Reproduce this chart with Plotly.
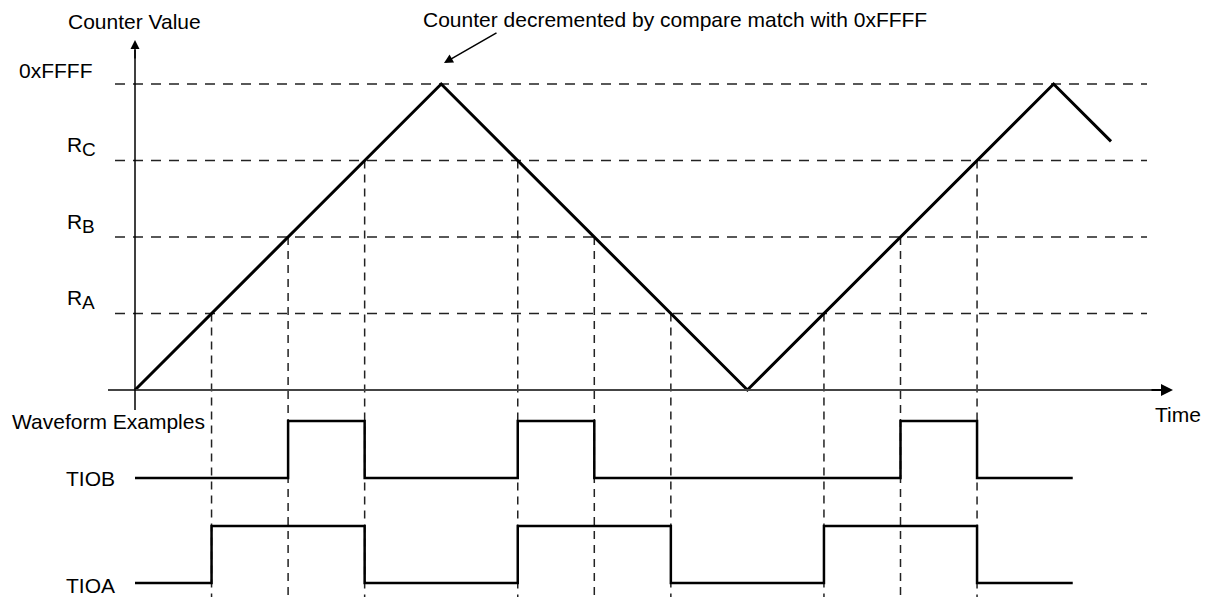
import plotly.graph_objects as go

# counter levels (in units of one compare-register step)
level_main = ["R", "R", "R", "0xFFFF"]
level_sub = ["A", "B", "C", ""]
level_values = [1, 2, 3, 4]

# up/down counter ramp
counter_t = [0, 4, 8, 12, 12.75]
counter_v = [0, 4, 0, 4, 3.25]

# compare-match instants and the level matched
match_t = [1, 2, 3, 5, 6, 7, 9, 10, 11]
match_v = [1, 2, 3, 3, 2, 1, 1, 2, 3]

# output waveforms (hv steps)
tiob_t = [0, 2, 3, 5, 6, 10, 11, 12.25]
tiob_s = [0, 1, 0, 1, 0, 1, 0, 0]
tioa_t = [0, 1, 3, 5, 7, 9, 11, 12.25]
tioa_s = [0, 1, 0, 1, 0, 1, 0, 0]

W, H = 1206, 597
X0_PX, Y0_PX = 135, 390
X_SCALE, Y_SCALE = 76.55, 76.5


def dx(p):
    return (p - X0_PX) / X_SCALE


def dy(p):
    return (Y0_PX - p) / Y_SCALE


FONT = dict(family="Liberation Sans, Arial, sans-serif", size=21, color="black")
SUB_FONT = dict(family="Liberation Sans, Arial, sans-serif", size=19, color="black")
BOTTOM = dy(600)

fig = go.Figure()

# horizontal dashed reference levels
for v in level_values:
    fig.add_trace(go.Scatter(
        x=[dx(115), dx(1147)], y=[v, v], mode="lines",
        line=dict(color="#222", width=1.5, dash="10px,8px"), hoverinfo="skip"))

# vertical dashed lines from each compare match down through the waveforms
for t, v in zip(match_t, match_v):
    fig.add_trace(go.Scatter(
        x=[t, t], y=[v, BOTTOM], mode="lines",
        line=dict(color="#222", width=1.5, dash="8px,6px"), hoverinfo="skip"))

# counter ramp
fig.add_trace(go.Scatter(x=counter_t, y=counter_v, mode="lines",
                         line=dict(color="black", width=3), hoverinfo="skip"))

# waveforms
amp = 57 / Y_SCALE
for ts, ss, base in [(tiob_t, tiob_s, dy(478)), (tioa_t, tioa_s, dy(583))]:
    fig.add_trace(go.Scatter(
        x=ts, y=[base + s * amp for s in ss], mode="lines", line_shape="hv",
        line=dict(color="black", width=2.5), hoverinfo="skip"))

# axes
fig.add_shape(type="line", x0=dx(108), x1=dx(1160), y0=0, y1=0,
              line=dict(color="#444", width=2))
fig.add_shape(type="line", x0=0, x1=0, y0=dy(410), y1=dy(50),
              line=dict(color="black", width=1.5))

ann = []
ann.append(dict(x=dx(1173), y=0, ax=dx(1150), ay=0, axref="x", ayref="y",
                text="", showarrow=True, arrowhead=2, arrowsize=1.2,
                arrowwidth=2, arrowcolor="black", standoff=0))
ann.append(dict(x=0, y=dy(40), ax=0, ay=dy(60), axref="x", ayref="y",
                text="", showarrow=True, arrowhead=2, arrowsize=1.2,
                arrowwidth=1.5, arrowcolor="black", standoff=0))
ann.append(dict(x=dx(444), y=dy(63), ax=dx(498), ay=dy(32), axref="x", ayref="y",
                text="", showarrow=True, arrowhead=2, arrowsize=1.2,
                arrowwidth=1.5, arrowcolor="black", standoff=0))

ann.append(dict(x=dx(134), y=dy(21), text="Counter Value", showarrow=False,
                xanchor="center", yanchor="middle"))
ann.append(dict(x=dx(675), y=dy(19), text="Counter decremented by compare match with 0xFFFF",
                showarrow=False, xanchor="center", yanchor="middle"))
for main, sub, v in zip(level_main, level_sub, level_values):
    if sub:
        ann.append(dict(x=dx(84), y=v + 16 / Y_SCALE, text=main, showarrow=False,
                        xanchor="right", yanchor="middle"))
        ann.append(dict(x=dx(80), y=v + 11 / Y_SCALE, text=sub, showarrow=False,
                        xanchor="left", yanchor="middle", font=SUB_FONT))
    else:
        ann.append(dict(x=dx(95), y=v + 14 / Y_SCALE, text=main, showarrow=False,
                        xanchor="right", yanchor="middle"))
ann.append(dict(x=dx(1178), y=dy(414), text="Time", showarrow=False,
                xanchor="center", yanchor="middle"))
ann.append(dict(x=dx(10), y=dy(421), text="Waveform Examples", showarrow=False,
                xanchor="left", yanchor="middle"))
ann.append(dict(x=dx(117), y=dy(478), text="TIOB", showarrow=False,
                xanchor="right", yanchor="middle"))
ann.append(dict(x=dx(117), y=dy(585), text="TIOA", showarrow=False,
                xanchor="right", yanchor="middle"))

for a in ann:
    a.setdefault("font", FONT)
    a.setdefault("xref", "x")
    a.setdefault("yref", "y")

fig.update_layout(
    width=W, height=H,
    margin=dict(l=0, r=0, t=0, b=0),
    plot_bgcolor="white", paper_bgcolor="white",
    showlegend=False,
    annotations=ann,
    xaxis=dict(range=[dx(0), dx(W)], visible=False, fixedrange=True),
    yaxis=dict(range=[dy(H), dy(0)], visible=False, fixedrange=True),
)

fig.write_html("out.html", config={"displayModeBar": False},
               post_script="document.body.style.margin='0';")
